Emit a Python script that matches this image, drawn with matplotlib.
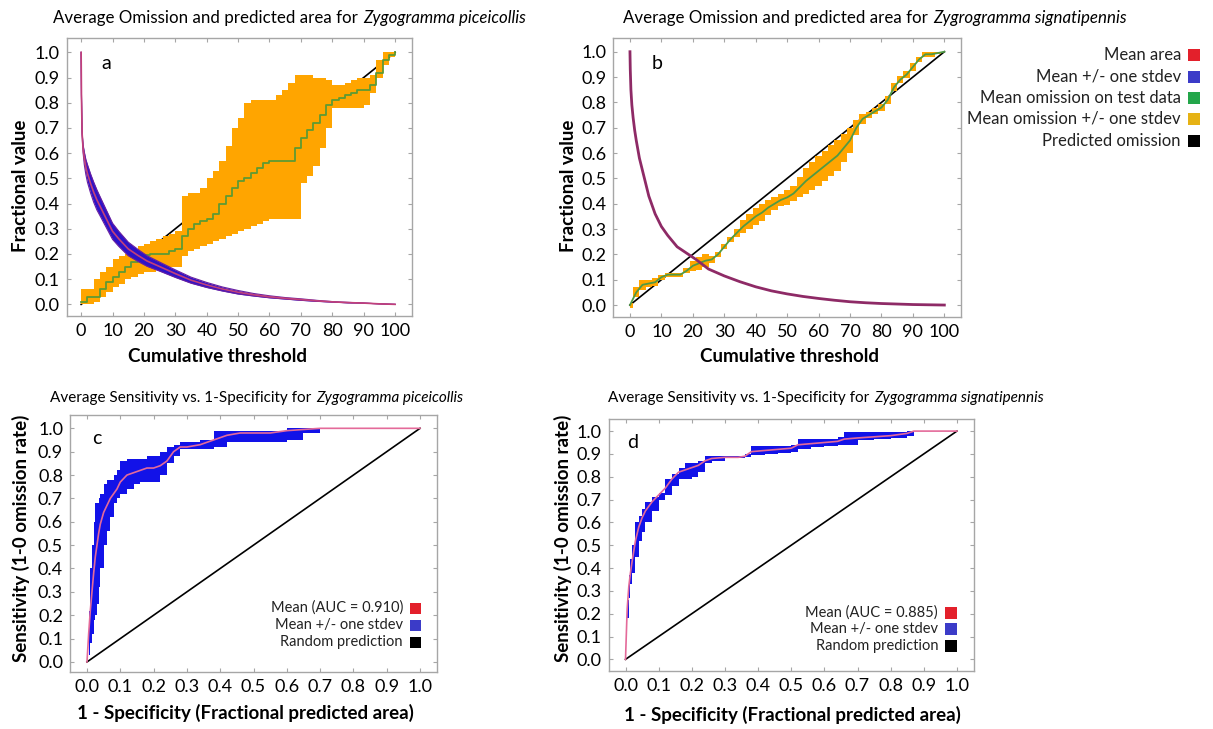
import numpy as np
import matplotlib
matplotlib.use('Agg')
import matplotlib.pyplot as plt
from matplotlib.patches import Rectangle

plt.rcParams['font.family'] = ['Lato', 'DejaVu Sans']

W, H = 1213, 729

# ---- panel a / b : omission and predicted area ----
thr = [0, 2, 4, 6, 8, 10, 12, 14, 16, 18, 20, 22, 24, 26, 28, 30, 32, 34, 36, 38, 40,
       42, 44, 46, 48, 50, 52, 54, 56, 58, 60, 62, 64, 66, 68, 70, 72, 74, 76, 78, 80,
       82, 84, 86, 88, 90, 92, 94, 96, 98, 100]

om_a_mean = [0.01, 0.03, 0.03, 0.06, 0.09, 0.11, 0.13, 0.15, 0.17, 0.19, 0.195, 0.2, 0.2,
             0.2, 0.21, 0.22, 0.27, 0.3, 0.32, 0.33, 0.34, 0.36, 0.4, 0.43, 0.46, 0.49,
             0.5, 0.52, 0.54, 0.56, 0.57, 0.57, 0.57, 0.57, 0.62, 0.66, 0.69, 0.72, 0.75,
             0.79, 0.81, 0.82, 0.83, 0.84, 0.85, 0.85, 0.87, 0.92, 0.97, 0.99, 1.0]
om_a_hi = [0.06, 0.06, 0.1, 0.13, 0.15, 0.18, 0.19, 0.2, 0.22, 0.23, 0.24, 0.25, 0.26,
           0.27, 0.28, 0.29, 0.43, 0.44, 0.44, 0.46, 0.5, 0.53, 0.57, 0.63, 0.7, 0.74,
           0.8, 0.81, 0.81, 0.81, 0.81, 0.83, 0.85, 0.88, 0.91, 0.91, 0.91, 0.9, 0.9,
           0.89, 0.87, 0.87, 0.88, 0.89, 0.9, 0.9, 0.91, 0.97, 1.0, 1.0, 1.0]
om_a_lo = [0.0, 0.0, 0.01, 0.03, 0.05, 0.07, 0.08, 0.1, 0.11, 0.12, 0.13, 0.13, 0.14,
           0.14, 0.15, 0.15, 0.19, 0.21, 0.22, 0.23, 0.24, 0.25, 0.26, 0.27, 0.28, 0.29,
           0.3, 0.31, 0.32, 0.33, 0.34, 0.34, 0.34, 0.34, 0.34, 0.48, 0.51, 0.55, 0.62,
           0.7, 0.78, 0.78, 0.78, 0.78, 0.78, 0.79, 0.84, 0.9, 0.95, 0.98, 1.0]

om_b_mean = [0.0, 0.05, 0.08, 0.085, 0.09, 0.11, 0.12, 0.12, 0.12, 0.135, 0.155, 0.165,
             0.175, 0.18, 0.2, 0.23, 0.26, 0.285, 0.31, 0.33, 0.35, 0.365, 0.385, 0.4,
             0.415, 0.425, 0.44, 0.465, 0.49, 0.51, 0.53, 0.55, 0.57, 0.59, 0.62, 0.65,
             0.7, 0.735, 0.75, 0.765, 0.78, 0.81, 0.86, 0.89, 0.91, 0.94, 0.97, 0.99,
             0.99, 0.995, 1.0]
om_b_sd = [0.01, 0.02, 0.02, 0.015, 0.015, 0.01, 0.008, 0.008, 0.008, 0.01, 0.02, 0.025,
           0.025, 0.015, 0.01, 0.01, 0.01, 0.015, 0.025, 0.03, 0.035, 0.035, 0.03, 0.025,
           0.025, 0.03, 0.03, 0.04, 0.05, 0.055, 0.06, 0.06, 0.06, 0.06, 0.055, 0.05,
           0.03, 0.02, 0.012, 0.012, 0.015, 0.015, 0.015, 0.015, 0.015, 0.015, 0.01,
           0.01, 0.01, 0.005, 0.0]

area_x = [0, 0.1, 0.3, 0.6, 1, 1.5, 2, 3, 4, 5, 6, 8, 10, 12, 15, 18, 21, 25, 30, 35,
          40, 45, 50, 55, 60, 65, 70, 75, 80, 85, 90, 95, 100]
area_a_mean = [1.0, 0.83, 0.68, 0.62, 0.58, 0.545, 0.52, 0.48, 0.445, 0.415, 0.39, 0.34,
               0.29, 0.26, 0.22, 0.195, 0.172, 0.15, 0.122, 0.096, 0.077, 0.061, 0.048,
               0.038, 0.03, 0.024, 0.019, 0.014, 0.01, 0.007, 0.005, 0.002, 0.0]
area_a_sd = [0, 0, 0.005, 0.015, 0.025, 0.03, 0.035, 0.038, 0.04, 0.04, 0.038, 0.035,
             0.032, 0.03, 0.027, 0.024, 0.021, 0.018, 0.015, 0.012, 0.01, 0.008, 0.007,
             0.005, 0.004, 0.003, 0.003, 0.002, 0.001, 0.001, 0, 0, 0]
area_b_mean = [1.0, 0.93, 0.85, 0.79, 0.74, 0.69, 0.65, 0.58, 0.53, 0.48, 0.43, 0.36,
               0.31, 0.275, 0.23, 0.205, 0.18, 0.142, 0.115, 0.092, 0.072, 0.056, 0.044,
               0.034, 0.026, 0.019, 0.013, 0.009, 0.006, 0.004, 0.002, 0.001, 0.0]

# ---- panel c / d : ROC ----
roc_c_x = [0, 0.005, 0.01, 0.015, 0.02, 0.025, 0.03, 0.035, 0.04, 0.05, 0.06, 0.07, 0.08,
           0.09, 0.1, 0.12, 0.14, 0.16, 0.18, 0.2, 0.22, 0.24, 0.26, 0.28, 0.3, 0.34,
           0.38, 0.42, 0.46, 0.5, 0.55, 0.6, 0.65, 0.7, 0.8, 0.9, 1.0]
roc_c_mean = [0, 0.12, 0.22, 0.3, 0.38, 0.45, 0.5, 0.55, 0.59, 0.64, 0.67, 0.7, 0.72,
              0.74, 0.77, 0.8, 0.81, 0.82, 0.83, 0.83, 0.84, 0.86, 0.9, 0.92, 0.92, 0.93,
              0.95, 0.97, 0.98, 0.98, 0.98, 0.99, 0.995, 1.0, 1.0, 1.0, 1.0]
roc_c_hi = [0, 0.22, 0.4, 0.5, 0.6, 0.68, 0.68, 0.7, 0.72, 0.76, 0.78, 0.78, 0.8, 0.82,
            0.86, 0.87, 0.87, 0.87, 0.88, 0.88, 0.9, 0.92, 0.93, 0.94, 0.94, 0.95, 0.99,
            0.99, 0.99, 0.99, 0.99, 1.0, 1.0, 1.0, 1.0, 1.0, 1.0]
roc_c_lo = [0, 0.03, 0.08, 0.12, 0.18, 0.2, 0.25, 0.32, 0.4, 0.5, 0.56, 0.62, 0.68,
            0.7, 0.72, 0.74, 0.76, 0.77, 0.77, 0.77, 0.8, 0.85, 0.88, 0.91, 0.91, 0.91,
            0.92, 0.94, 0.94, 0.94, 0.94, 0.95, 0.98, 1.0, 1.0, 1.0, 1.0]

roc_d_x = [0, 0.005, 0.01, 0.015, 0.02, 0.03, 0.04, 0.05, 0.06, 0.08, 0.1, 0.12, 0.14,
           0.16, 0.18, 0.2, 0.22, 0.24, 0.26, 0.3, 0.34, 0.36, 0.38, 0.42, 0.46, 0.5,
           0.52, 0.56, 0.6, 0.64, 0.66, 0.7, 0.75, 0.8, 0.85, 0.87, 0.9, 1.0]
roc_d_mean = [0, 0.22, 0.32, 0.38, 0.43, 0.52, 0.58, 0.62, 0.65, 0.69, 0.72, 0.75, 0.79,
              0.82, 0.83, 0.84, 0.85, 0.87, 0.88, 0.885, 0.885, 0.89, 0.91, 0.915, 0.92,
              0.925, 0.94, 0.945, 0.95, 0.955, 0.965, 0.97, 0.975, 0.98, 0.99, 1.0, 1.0, 1.0]
roc_d_hi = [0, 0.26, 0.37, 0.44, 0.5, 0.6, 0.63, 0.66, 0.69, 0.71, 0.73, 0.79, 0.81,
            0.84, 0.86, 0.86, 0.87, 0.89, 0.89, 0.89, 0.89, 0.9, 0.935, 0.935, 0.935,
            0.94, 0.965, 0.965, 0.965, 0.975, 0.995, 0.995, 0.995, 0.995, 1.0, 1.0, 1.0, 1.0]
roc_d_lo = [0, 0.18, 0.27, 0.33, 0.38, 0.45, 0.52, 0.56, 0.6, 0.65, 0.7, 0.72, 0.76,
            0.79, 0.79, 0.8, 0.82, 0.86, 0.87, 0.88, 0.88, 0.885, 0.895, 0.9, 0.905,
            0.91, 0.92, 0.93, 0.935, 0.94, 0.94, 0.96, 0.965, 0.97, 0.98, 1.0, 1.0, 1.0]

legend_top = ['Mean area', 'Mean +/- one stdev', 'Mean omission on test data',
              'Mean omission +/- one stdev', 'Predicted omission']
legend_top_colors = ['#e3202b', '#3b3bc8', '#23a64a', '#e6b214', '#000000']
legend_roc_colors = ['#e3202b', '#3b3bc8', '#000000']

ORANGE = '#ffa500'
GREEN = '#5e9a34'
ROCBLUE = '#1212e8'
GRAY = '#a6a6a6'


def px_ax(l, t, r, b):
    return fig.add_axes([l / W, 1 - b / H, (r - l) / W, (b - t) / H])


def style(ax, xlim, ylim, xticks, xlabels):
    ax.set_xlim(*xlim)
    ax.set_ylim(*ylim)
    ax.set_xticks(xticks)
    ax.set_xticklabels(xlabels)
    ax.set_yticks(np.arange(0, 1.01, 0.1))
    ax.set_yticklabels(['%.1f' % v for v in np.arange(0, 1.01, 0.1)])
    for s in ax.spines.values():
        s.set_color(GRAY)
        s.set_linewidth(1)
    ax.tick_params(direction='in', length=3, color=GRAY, top=True, right=True,
                   labelsize=13, pad=5)


def title(x, y, plain, ital, fs):
    t = fig.text(x / W, 1 - y / H, plain, fontsize=fs, va='center', ha='left')
    r = fig.canvas.get_renderer()
    bb = t.get_window_extent(r)
    fig.text((bb.x1 + 1) / W, 1 - y / H, ital, fontsize=fs, va='center', ha='left',
             style='italic')


def legend(xr, rows, labels, colors, size, fs):
    for y, lab, c in zip(rows, labels, colors):
        fig.text((xr - 7) / W, 1 - y / H, lab, ha='right', va='center', fontsize=fs,
                 color='#222222')
        fig.patches.append(Rectangle(((xr) / W, 1 - (y + size / 2) / H), size / W,
                                     size / H, transform=fig.transFigure,
                                     facecolor=c, edgecolor='none'))


fig = plt.figure(figsize=(W / 100, H / 100), dpi=100)

thr_ticks = list(range(0, 101, 10))
roc_ticks = list(np.round(np.arange(0, 1.01, 0.1), 1))
roc_labels = ['%.1f' % v for v in roc_ticks]

# panel a
ax = px_ax(66.7, 38, 411.7, 315.7)
ax.plot([0, 100], [0, 1], color='black', lw=1.2, zorder=1)
ax.fill_between(thr, om_a_lo, om_a_hi, step='post', color=ORANGE, lw=0, zorder=2)
ax.plot(thr, om_a_mean, drawstyle='steps-post', color=GREEN, lw=1.3, zorder=3)
lo = np.array(area_a_mean) - np.array(area_a_sd)
hi = np.array(area_a_mean) + np.array(area_a_sd)
ax.fill_between(area_x, lo, hi, color='#2d12c8', lw=0, zorder=4)
ax.plot(area_x, lo, color='#6a1fa0', lw=0.8, zorder=4)
ax.plot(area_x, hi, color='#6a1fa0', lw=0.8, zorder=4)
ax.plot(area_x, area_a_mean, color='#c2407a', lw=1.2, zorder=5)
ax.text(8, 0.955, 'a', fontsize=14, va='center', ha='center')
style(ax, (-4.6, 105.3), (-0.045, 1.057), thr_ticks, [str(v) for v in thr_ticks])

# panel b
ax = px_ax(613.3, 38.3, 960.7, 316.7)
ax.plot([0, 100], [0, 1], color='black', lw=1.2, zorder=1)
lo = np.array(om_b_mean) - np.array(om_b_sd)
hi = np.array(om_b_mean) + np.array(om_b_sd)
ax.fill_between(thr, lo, hi, step='mid', color=ORANGE, lw=0, zorder=2)
ax.plot(thr, om_b_mean, color='#4f9a45', lw=1.3, zorder=3)
ax.plot(area_x, area_b_mean, color='#8e2a66', lw=2, zorder=5)
ax.text(8.6, 0.955, 'b', fontsize=14, va='center', ha='center')
style(ax, (-5.3, 105.2), (-0.046, 1.053), thr_ticks, [str(v) for v in thr_ticks])

# panel c
ax = px_ax(70, 415, 437, 672)
ax.plot([0, 1], [0, 1], color='black', lw=1.2, zorder=1)
ax.fill_between(roc_c_x, roc_c_lo, roc_c_hi, step='post', color=ROCBLUE, lw=0, zorder=2)
ax.plot(roc_c_x, roc_c_mean, color='#e46a9a', lw=1.2, zorder=3)
ax.text(0.03, 0.958, 'c', fontsize=14, va='center', ha='center')
style(ax, (-0.051, 1.051), (-0.043, 1.057), roc_ticks, roc_labels)

# panel d
ax = px_ax(608.6, 419, 974.5, 671)
ax.plot([0, 1], [0, 1], color='black', lw=1.2, zorder=1)
ax.fill_between(roc_d_x, roc_d_lo, roc_d_hi, step='post', color=ROCBLUE, lw=0, zorder=2)
ax.plot(roc_d_x, roc_d_mean, color='#e46a9a', lw=1.2, zorder=3)
ax.text(0.02, 0.95, 'd', fontsize=14, va='center', ha='center')
style(ax, (-0.051, 1.053), (-0.051, 1.053), roc_ticks, roc_labels)

# titles
title(53, 18, 'Average Omission and predicted area for ', 'Zygogramma piceicollis', 12.2)
title(623, 18, 'Average Omission and predicted area for ', 'Zygrogramma signatipennis', 12.2)
title(50, 398, 'Average Sensitivity vs. 1-Specificity for ', 'Zygogramma piceicollis', 11)
title(608, 398, 'Average Sensitivity vs. 1-Specificity for ', 'Zygogramma signatipennis', 11)

# axis labels
lab = dict(fontsize=13.5, fontweight='bold', ha='center', va='center')
fig.text(21 / W, 1 - 186 / H, 'Fractional value', rotation=90, **lab)
fig.text(568 / W, 1 - 186 / H, 'Fractional value', rotation=90, **lab)
fig.text(217 / W, 1 - 357 / H, 'Cumulative threshold', **lab)
fig.text(790 / W, 1 - 357 / H, 'Cumulative threshold', **lab)
fig.text(21 / W, 1 - 538 / H, 'Sensitivity (1-0 omission rate)', rotation=90, **lab)
fig.text(563 / W, 1 - 538 / H, 'Sensitivity (1-0 omission rate)', rotation=90, **lab)
fig.text(245 / W, 1 - 713 / H, '1 - Specificity (Fractional predicted area)', **lab)
fig.text(792 / W, 1 - 715 / H, '1 - Specificity (Fractional predicted area)', **lab)

# legends
legend(1188, [55, 77, 98, 119, 141], legend_top, legend_top_colors, 12, 12)
legend(410, [608, 625, 642], ['Mean (AUC = 0.910)', 'Mean +/- one stdev',
                              'Random prediction'], legend_roc_colors, 11, 10.5)
legend(945, [613, 629, 646], ['Mean (AUC = 0.885)', 'Mean +/- one stdev',
                              'Random prediction'], legend_roc_colors, 12, 10.5)

fig.savefig('out.png', dpi=100)
